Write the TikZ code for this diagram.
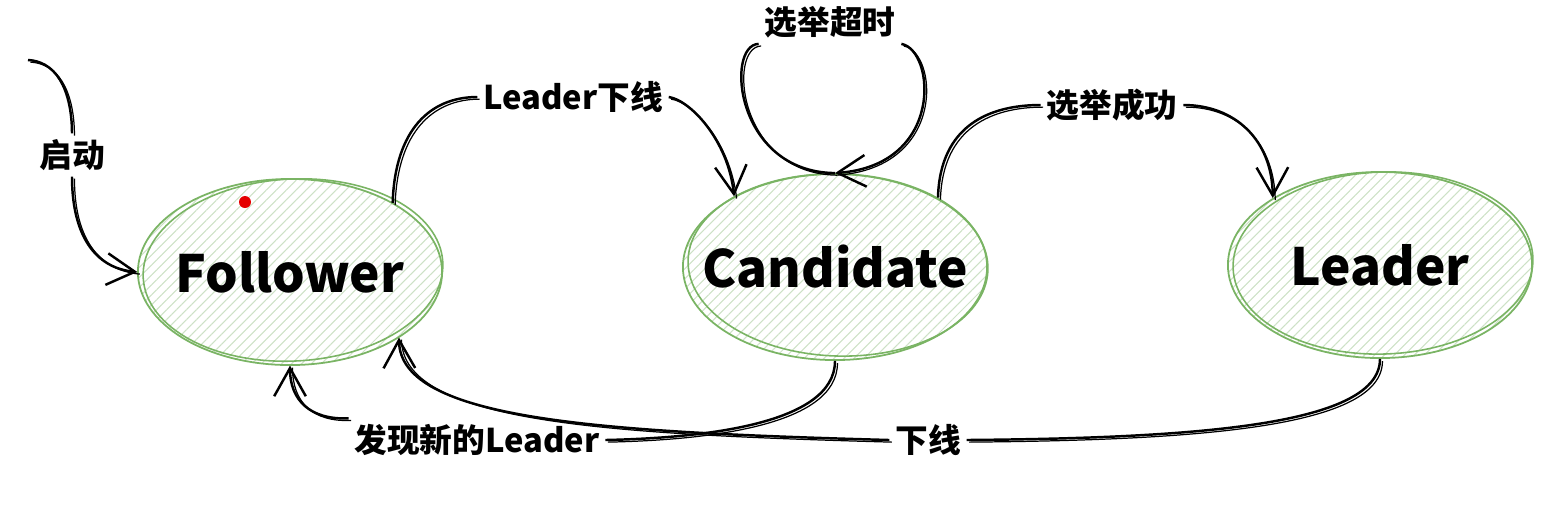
\documentclass[tikz,border=0pt]{standalone}
\usepackage{fontspec}
\setmainfont{Noto Sans CJK SC}
\usetikzlibrary{arrows.meta,shapes.geometric,patterns.meta}
\definecolor{verde}{RGB}{122,180,100}
\definecolor{tratteggio}{RGB}{205,225,198}
\begin{document}
\begin{tikzpicture}[x=0.01cm,y=-0.01cm,>={Straight Barb[length=8pt,width=9pt]},
		stato/.style={ellipse, draw=verde, line width=0.5pt, minimum width=3.04cm, minimum height=1.86cm, inner sep=0pt,
			pattern={Lines[angle=45,distance=2pt,line width=0.3pt]}, pattern color=tratteggio,
			label={[font=\bfseries\fontsize{14.6}{15}\selectfont]center:#1}},
		bordo/.style={draw=verde, line width=0.45pt},
		linea/.style={line width=0.7pt, postaction={draw, line width=0.35pt, -, transform canvas={shift={(0.7pt,-0.6pt)}}}},
		freccia/.style={linea, ->},
		etichetta/.style={fill=white, inner sep=1.5pt, font=\bfseries\fontsize{9.3}{10}\selectfont},
		]
		\useasboundingbox (0,0) rectangle (1560,526);
		% ── Stati ──
		\node[stato=Follower] (fol) at (290,272) {};
		\node[stato=Candidate] (cand) at (835,267) {};
		\node[stato=Leader] (ld) at (1380,265) {};
		% ── seconda passata del contorno (effetto schizzo) ──
		\foreach \n/\r in {fol/3,cand/-2,ld/2}
		\draw[bordo] ([shift={(3,-2)}]\n.center) ellipse [x radius=150, y radius=91, rotate=\r];
		\fill[red!90!black] (245,202) circle (6);
		% ── Etichette ──
		\coordinate (inizio) at (28,60);
		\node[etichetta] (avvio) at (72,155) {启动};
		\node[etichetta] (lcad) at (573,97) {Leader下线};
		\node[etichetta] (timeout) at (830,22) {选举超时};
		\node[etichetta] (vince) at (1112,105) {选举成功};
		\node[etichetta] (nuovo) at (477,440) {发现新的Leader};
		\node[etichetta] (giu) at (928,440) {下线};
		% ── Transizioni ──
		\draw[linea] (inizio) .. controls (62,62) and (72,100) .. (avvio.north);
		\draw[freccia] (avvio.south) .. controls (72,235) and (95,268) .. (fol.west);
		\draw[linea] (fol.34) .. controls (395,130) and (430,97) .. (lcad.west);
		\draw[freccia] (lcad.east) .. controls (690,100) and (728,140) .. (cand.145);
		\draw[linea] (cand.north) .. controls (735,172) and (725,45) .. (timeout.south west);
		\draw[freccia] (timeout.south east) .. controls (935,50) and (945,165) .. (cand.north);
		\draw[linea] (cand.34) .. controls (940,125) and (990,105) .. (vince.west);
		\draw[freccia] (vince.east) .. controls (1235,105) and (1272,140) .. (ld.148);
		\draw[linea] (cand.south) .. controls (835,425) and (700,438) .. (nuovo.east);
		\draw[freccia] (nuovo.north west) .. controls (310,420) and (290,400) .. (fol.south);
		\draw[linea] (ld.south) .. controls (1380,425) and (1200,438) .. (giu.east);
		\draw[freccia] (giu.west) .. controls (600,432) and (400,420) .. (fol.-31);
\end{tikzpicture}
\end{document}
